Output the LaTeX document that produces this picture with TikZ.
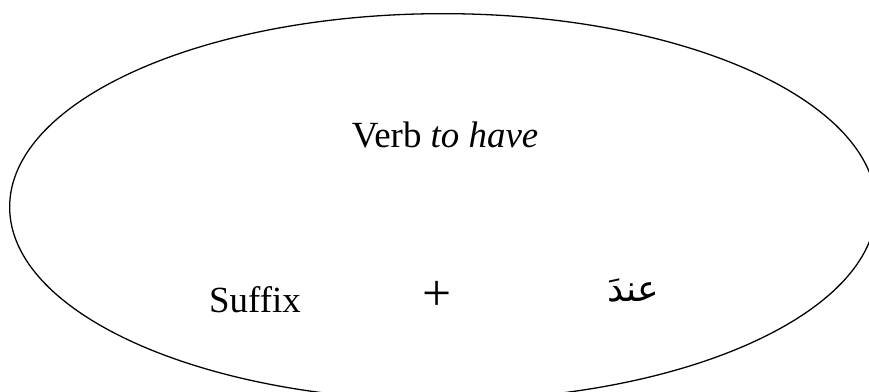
\documentclass[tikz,border=0pt]{standalone}
\usepackage{fontspec}
\setmainfont{Liberation Serif}
\newfontfamily\arabicfont[Script=Arabic]{DejaVu Sans}
\TeXXeTstate=1
\usetikzlibrary{shapes.geometric}

\begin{document}
\begin{tikzpicture}[x=.03cm,y=-.03cm,line width=1.1pt,every node/.style={font=\fontsize{31.5}{38}\selectfont,inner sep=0pt},word/.style={anchor=base},oval/.style={draw,ellipse,minimum width=26cm,minimum height=11.6cm}]
\path[use as bounding box] (0,0) rectangle (869,391);

\node[oval] (frame) at (443,207) {};
\node[word] (verb) at (445,147) {Verb \textit{to have}};
\node[word] (suffix) at (255,312) {Suffix};
\node[font=\fontsize{44}{50}\selectfont] (plus) at (437,296) {+};
\node[word,font=\arabicfont\fontsize{31}{36}\selectfont] (inda) at (633,301) {\beginR عندَ\endR};

\end{tikzpicture}
\end{document}
